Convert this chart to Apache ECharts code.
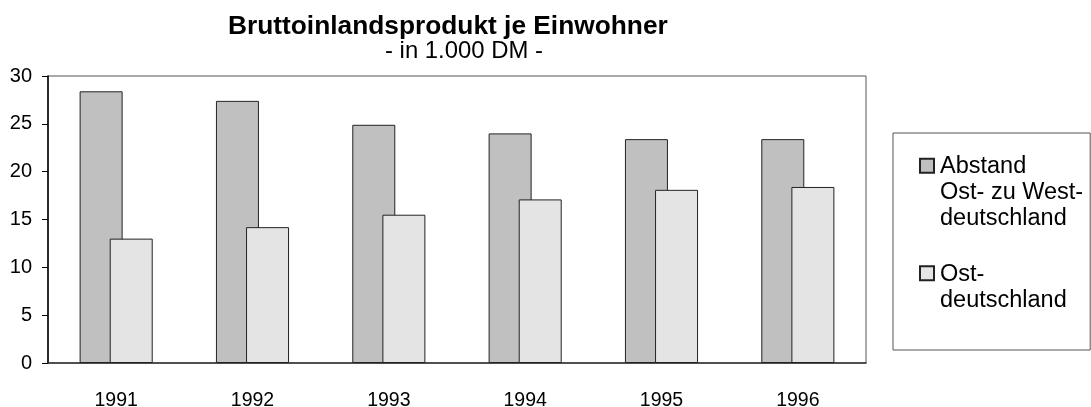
<!DOCTYPE html>
<html>
<head>
<meta charset="utf-8">
<script src="https://cdn.jsdelivr.net/npm/echarts@6/dist/echarts.min.js"></script>
<style>
  html, body { margin: 0; padding: 0; background: #fff; }
  #chart { width: 1091px; height: 407px; }
</style>
</head>
<body>
<div id="chart"></div>
<script>
const years = ['1991', '1992', '1993', '1994', '1995', '1996']
const abstand = [28.4, 27.4, 24.9, 24.0, 23.4, 23.4]
const ost = [13.0, 14.2, 15.5, 17.1, 18.1, 18.4]
const seriesNames = ['Abstand\nOst- zu West-\ndeutschland', 'Ost-\ndeutschland']

const font = '"Liberation Sans", Arial, sans-serif'

// legend icons: a tall invisible box with the square placed next to the first text line
const iconAbstand = 'path://M0,5H14V19H0Z M0,0L0.001,0 M0,78L0.001,78'
const iconOst = 'path://M0,18H14V32H0Z M0,0L0.001,0 M0,78L0.001,78'

const chart = echarts.init(document.getElementById('chart'))

const option = {
  animation: false,
  textStyle: { fontFamily: font, color: '#000' },
  title: [
    {
      text: 'Bruttoinlandsprodukt je Einwohner',
      left: 228,
      top: 14,
      padding: 0,
      textStyle: { fontFamily: font, fontSize: 26.3, fontWeight: 'bold', color: '#000' }
    },
    {
      text: '- in 1.000 DM -',
      left: 385,
      top: 39,
      padding: 0,
      textStyle: { fontFamily: font, fontSize: 23.9, fontWeight: 'normal', color: '#000' }
    }
  ],
  legend: {
    orient: 'vertical',
    left: 893,
    top: 133,
    padding: [19.7, 7, 22.7, 26],
    itemWidth: 14,
    itemHeight: 78,
    itemGap: 14.6,
    borderColor: '#555',
    borderWidth: 1,
    backgroundColor: '#fff',
    textStyle: {
      fontFamily: font,
      fontSize: 23.5,
      lineHeight: 26,
      color: '#000',
      padding: [0, 0, 0, 1]
    },
    data: [
      { name: seriesNames[0], icon: iconAbstand },
      { name: seriesNames[1], icon: iconOst }
    ]
  },
  grid: {
    left: 48,
    top: 76,
    right: 225,
    bottom: 44,
    show: true,
    borderColor: '#555',
    borderWidth: 1,
    outerBoundsMode: 'none'
  },
  xAxis: [
    {
      type: 'category',
      data: years,
      axisLine: { lineStyle: { color: '#333', width: 1.5 } },
      axisTick: { inside: true, length: 8, lineStyle: { color: '#000' } },
      axisLabel: { color: '#000', fontSize: 19.5, fontFamily: font, margin: 28 }
    },
    {
      type: 'category',
      data: years,
      position: 'bottom',
      axisLine: { show: false },
      axisTick: { length: 5, lineStyle: { color: '#000' } },
      axisLabel: { show: false }
    }
  ],
  yAxis: {
    type: 'value',
    min: 0,
    max: 30,
    interval: 5,
    axisLine: { show: true, lineStyle: { color: '#000', width: 1.5 } },
    axisTick: { show: true, length: 6, lineStyle: { color: '#000' } },
    axisLabel: { color: '#000', fontSize: 20, fontFamily: font, margin: 16 },
    splitLine: { show: false }
  },
  series: [
    {
      name: seriesNames[0],
      type: 'bar',
      data: abstand,
      barWidth: 43,
      barGap: '-30%',
      itemStyle: { color: '#c0c0c0', borderColor: '#222', borderWidth: 1 }
    },
    {
      name: seriesNames[1],
      type: 'bar',
      data: ost,
      barWidth: 43,
      barGap: '-30%',
      itemStyle: { color: '#e4e4e4', borderColor: '#222', borderWidth: 1 }
    }
  ]
}

chart.setOption(option)
</script>
</body>
</html>
